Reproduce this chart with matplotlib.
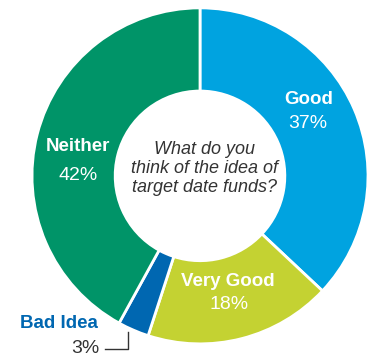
import matplotlib.pyplot as plt

plt.rcParams['font.family'] = ['Liberation Sans', 'DejaVu Sans']

labels = ['Good', 'Very Good', 'Bad Idea', 'Neither']
values = [37, 18, 3, 42]
colors = ['#00a3e0', '#c4d232', '#0067b1', '#009468']
question = 'What do you\nthink of the idea of\ntarget date funds?'

fig = plt.figure(figsize=(3.68, 3.56), dpi=100)
ax = fig.add_axes([0.087, 0.034, 0.913, 0.944])

ax.pie(values, colors=colors, startangle=90, counterclock=False, radius=1,
       wedgeprops=dict(width=0.495, edgecolor='white', linewidth=2))
ax.set_xlim(-1, 1)
ax.set_ylim(-1, 1)
ax.set_aspect('equal')
ax.axis('off')

# labels on the ring
ax.text(0.649, 0.452, labels[0], color='white', fontsize=13.5, fontweight='bold', ha='center', va='center')
ax.text(0.643, 0.31, '%d%%' % values[0], color='white', fontsize=14, ha='center', va='center')
ax.text(0.167, -0.631, labels[1], color='white', fontsize=13.5, fontweight='bold', ha='center', va='center')
ax.text(0.173, -0.768, '%d%%' % values[1], color='white', fontsize=14, ha='center', va='center')
ax.text(-0.726, 0.173, labels[3], color='white', fontsize=13.5, fontweight='bold', ha='center', va='center')
ax.text(-0.726, 0.0, '%d%%' % values[3], color='white', fontsize=14, ha='center', va='center')

# small slice, labelled outside
ax.text(-0.839, -0.881, labels[2], color=colors[2], fontsize=13.5, fontweight='bold', ha='center', va='center')
ax.text(-0.685, -1.03, '%d%%' % values[2], color='#333333', fontsize=14, ha='center', va='center')
ax.plot([-0.565, -0.429, -0.429], [-1.03, -1.03, -0.929], color='#333333', lw=1, clip_on=False)

ax.text(0.024, 0.042, question, color='#333333', fontsize=13, style='italic',
        ha='center', va='center', linespacing=1.15)

fig.savefig('out.png', dpi=100)
